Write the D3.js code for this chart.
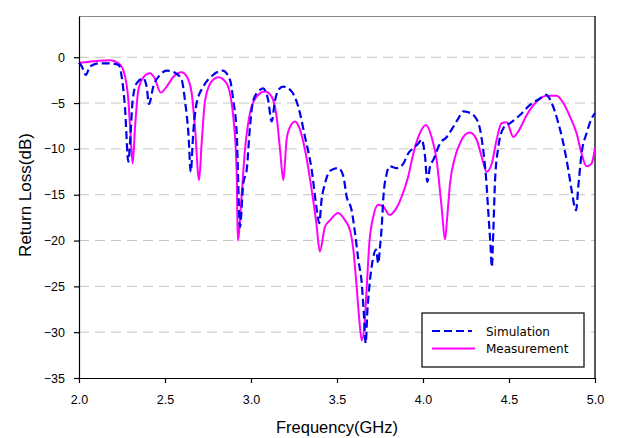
<!DOCTYPE html>
<html>
<head>
<meta charset="utf-8">
<script src="https://cdn.jsdelivr.net/npm/d3@7"></script>
<style>
  body { margin: 0; background: #fff; }
  text { font-family: "Liberation Sans", Arial, sans-serif; fill: #000; }
</style>
</head>
<body>
<div id="chart"></div>
<script>
// measured curve (GHz, dB)
var measFreq = [2.0, 2.06, 2.12, 2.18, 2.23, 2.26, 2.287, 2.30, 2.312, 2.326, 2.345, 2.374, 2.413, 2.44, 2.475, 2.51, 2.55, 2.597, 2.626, 2.655, 2.674, 2.698, 2.713, 2.733, 2.77, 2.81, 2.858, 2.897, 2.917, 2.923, 2.945, 2.965, 2.994, 3.033, 3.081, 3.12, 3.149, 3.169, 3.188, 3.207, 3.227, 3.256, 3.285, 3.314, 3.353, 3.38, 3.40, 3.43, 3.459, 3.507, 3.547, 3.576, 3.595, 3.614, 3.63, 3.644, 3.659, 3.673, 3.688, 3.711, 3.74, 3.77, 3.804, 3.837, 3.876, 3.914, 3.944, 3.973, 4.017, 4.05, 4.079, 4.108, 4.128, 4.141, 4.157, 4.186, 4.215, 4.234, 4.273, 4.312, 4.341, 4.37, 4.40, 4.428, 4.457, 4.487, 4.525, 4.554, 4.603, 4.66, 4.72, 4.777, 4.816, 4.855, 4.893, 4.922, 4.951, 4.98, 5.0];
var measDb = [-0.6, -0.5, -0.37, -0.33, -0.66, -1.57, -4.7, -8.5, -11.6, -7.6, -3.6, -2.2, -1.75, -2.3, -3.86, -3.2, -2.1, -1.64, -2.1, -3.9, -7.6, -13.4, -9.4, -4.7, -2.66, -2.18, -2.84, -6.5, -12.7, -20.0, -15.2, -10.1, -6.1, -4.3, -3.75, -4.3, -6.5, -10.1, -13.4, -9.0, -7.6, -7.0, -7.9, -10.1, -14.5, -18.1, -21.2, -18.5, -17.8, -17.0, -17.8, -18.9, -21.0, -25.0, -28.7, -30.9, -29.4, -25.0, -20.3, -17.4, -16.1, -16.3, -17.2, -16.7, -15.2, -13.0, -10.5, -8.7, -7.4, -8.7, -11.2, -16.3, -19.9, -17.4, -13.8, -10.9, -9.4, -8.7, -8.2, -9.0, -10.85, -12.5, -11.6, -9.0, -7.2, -7.1, -8.7, -8.1, -6.3, -4.85, -4.2, -4.2, -5.0, -6.5, -8.3, -10.5, -11.9, -11.6, -9.9];

// simulated curve (GHz, dB)
var simFreq = [2.0, 2.016, 2.04, 2.064, 2.12, 2.18, 2.23, 2.248, 2.267, 2.287, 2.30, 2.312, 2.335, 2.374, 2.393, 2.407, 2.432, 2.471, 2.51, 2.558, 2.597, 2.616, 2.636, 2.65, 2.664, 2.684, 2.723, 2.78, 2.835, 2.878, 2.897, 2.917, 2.936, 2.955, 2.975, 2.994, 3.013, 3.052, 3.07, 3.10, 3.12, 3.14, 3.159, 3.188, 3.237, 3.275, 3.314, 3.353, 3.38, 3.397, 3.41, 3.43, 3.459, 3.508, 3.537, 3.556, 3.585, 3.605, 3.624, 3.644, 3.657, 3.667, 3.676, 3.692, 3.711, 3.727, 3.74, 3.75, 3.76, 3.77, 3.789, 3.808, 3.847, 3.886, 3.914, 3.944, 3.973, 3.992, 4.012, 4.025, 4.041, 4.06, 4.099, 4.138, 4.166, 4.205, 4.234, 4.263, 4.302, 4.331, 4.35, 4.366, 4.38, 4.393, 4.40, 4.409, 4.419, 4.438, 4.467, 4.506, 4.564, 4.622, 4.68, 4.715, 4.748, 4.787, 4.816, 4.845, 4.864, 4.89, 4.903, 4.922, 4.951, 4.98, 5.0];
var simDb = [-0.6, -1.0, -1.93, -1.0, -0.66, -0.66, -0.84, -2.1, -5.4, -11.4, -8.3, -4.7, -2.84, -2.3, -3.2, -5.1, -3.2, -1.93, -1.46, -1.68, -2.48, -4.7, -8.3, -12.5, -8.3, -5.0, -3.2, -1.93, -1.46, -2.48, -4.7, -8.3, -18.5, -13.8, -12.3, -7.6, -4.7, -3.57, -3.4, -4.7, -7.0, -4.7, -3.57, -3.2, -3.75, -5.4, -8.7, -12.3, -16.3, -18.1, -15.6, -13.8, -12.4, -12.1, -13.0, -15.2, -16.7, -19.2, -22.1, -24.7, -28.3, -31.2, -27.9, -24.3, -21.8, -21.0, -22.5, -20.7, -18.5, -15.2, -12.7, -11.9, -12.1, -11.6, -10.5, -9.9, -9.4, -9.0, -10.85, -13.6, -11.9, -11.2, -9.4, -8.7, -7.9, -6.7, -5.9, -6.0, -6.5, -7.8, -10.1, -13.0, -17.0, -20.7, -22.9, -18.9, -13.4, -9.8, -7.75, -7.2, -6.3, -5.2, -4.5, -4.1, -5.0, -7.2, -9.4, -12.3, -14.5, -16.7, -14.1, -10.5, -8.3, -6.7, -6.1];

var xTicks = [2.0, 2.5, 3.0, 3.5, 4.0, 4.5, 5.0];
var yTicks = [0, -5, -10, -15, -20, -25, -30, -35];
var gridVals = [0, -5, -10, -15, -20, -25, -30];
var seriesNames = ["Simulation", "Measurement"];

var margin = {top: 16, right: 38, bottom: 60, left: 79},
    width = 633 - margin.left - margin.right,
    height = 438 - margin.top - margin.bottom;

var svg = d3.select("#chart")
    .append("svg")
    .attr("width", 633)
    .attr("height", 438)
    .append("g")
    .attr("transform", "translate(" + margin.left + "," + margin.top + ")");

var x = d3.scaleLinear().domain([2.0, 5.0]).range([0, width]);
var y = d3.scaleLinear().domain([-35, 4.5]).range([height, 0]);

// grid
svg.selectAll("line.grid")
    .data(gridVals)
    .enter().append("line")
    .attr("class", "grid")
    .attr("x1", 0).attr("x2", width)
    .attr("y1", function(d) { return y(d); })
    .attr("y2", function(d) { return y(d); })
    .attr("stroke", "#c4c4c4")
    .attr("stroke-width", 1)
    .attr("stroke-dasharray", "10,6");

// frame top and right
svg.append("line").attr("x1", 0).attr("x2", width).attr("y1", 0.5).attr("y2", 0.5)
    .attr("stroke", "#8a8a8a").attr("stroke-width", 1);
svg.append("line").attr("x1", width).attr("x2", width).attr("y1", 0).attr("y2", height)
    .attr("stroke", "#222").attr("stroke-width", 1.5);

var line = d3.line()
    .x(function(d) { return x(d[0]); })
    .y(function(d) { return y(d[1]); })
    .curve(d3.curveMonotoneX);

var measData = d3.zip(measFreq, measDb);
var simData = d3.zip(simFreq, simDb);

svg.append("path")
    .datum(measData)
    .attr("fill", "none")
    .attr("stroke", "#ff00ff")
    .attr("stroke-width", 2)
    .attr("d", line);

svg.append("path")
    .datum(simData)
    .attr("fill", "none")
    .attr("stroke", "#0000ee")
    .attr("stroke-width", 2.2)
    .attr("stroke-dasharray", "8,4")
    .attr("d", line);

// axes
var xAxis = svg.append("g")
    .attr("transform", "translate(0," + height + ")")
    .call(d3.axisBottom(x).tickValues(xTicks).tickFormat(d3.format(".1f"))
        .tickSize(5).tickSizeOuter(0).tickPadding(12));
var yAxis = svg.append("g")
    .call(d3.axisLeft(y).tickValues(yTicks).tickFormat(d3.format("d"))
        .tickSize(5).tickSizeOuter(0).tickPadding(9));

[xAxis, yAxis].forEach(function(a) {
  a.selectAll("path, line").attr("stroke", "#000").attr("stroke-width", 1.2);
  a.selectAll("text").style("font-size", "12.5px").style("font-family", "'Liberation Sans', Arial, sans-serif");
});

// axis titles
svg.append("text")
    .attr("x", width / 2)
    .attr("y", height + 55)
    .attr("text-anchor", "middle")
    .style("font-size", "16.5px")
    .text("Frequency(GHz)");

svg.append("text")
    .attr("transform", "translate(" + (31 - margin.left) + "," + (195 - margin.top) + ") rotate(-90)")
    .attr("text-anchor", "middle")
    .style("font-size", "17px")
    .text("Return Loss(dB)");

// legend
var lg = svg.append("g").attr("transform", "translate(" + (422 - margin.left) + "," + (313 - margin.top) + ")");
lg.append("rect")
    .attr("x", 0).attr("y", 0).attr("width", 162).attr("height", 54)
    .attr("fill", "#fff").attr("stroke", "#000").attr("stroke-width", 1.2);
var legendStyles = [
  {stroke: "#0000ee", dash: "8,4", width: 2.2, len: 40},
  {stroke: "#ff00ff", dash: null, width: 2, len: 43}
];
seriesNames.forEach(function(name, i) {
  var yy = 18 + i * 17.5;
  lg.append("line")
      .attr("x1", 10).attr("x2", 10 + legendStyles[i].len)
      .attr("y1", yy).attr("y2", yy)
      .attr("stroke", legendStyles[i].stroke)
      .attr("stroke-width", legendStyles[i].width)
      .attr("stroke-dasharray", legendStyles[i].dash);
  lg.append("text")
      .attr("x", 64)
      .attr("y", yy + 4.5)
      .style("font-family", "'DejaVu Sans', sans-serif")
      .style("font-size", "12px")
      .text(name);
});
</script>
</body>
</html>
